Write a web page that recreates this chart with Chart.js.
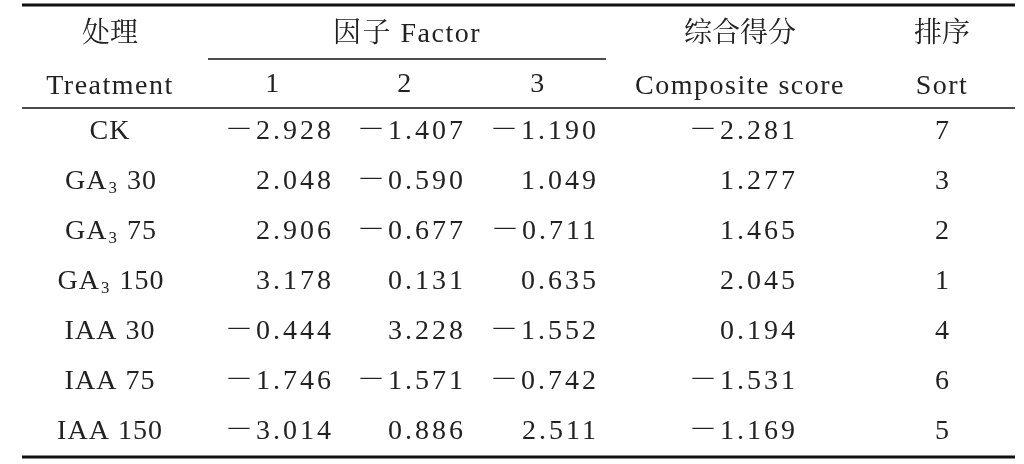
<!DOCTYPE html><html><head><meta charset="utf-8">
<script src="https://cdn.jsdelivr.net/npm/chart.js@4"></script>
<style>html,body{margin:0;padding:0;background:#fff}#c{display:block}</style></head>
<body><div style="width:1024px;height:464px"><canvas id="c"></canvas></div>
<script>
const treatments=["CK","GA_3 30","GA_3 75","GA_3 150","IAA 30","IAA 75","IAA 150"];
const factor1=["－2.928","2.048","2.906","3.178","－0.444","－1.746","－3.014"];
const factor2=["－1.407","－0.590","－0.677","0.131","3.228","－1.571","0.886"];
const factor3=["－1.190","1.049","－0.711","0.635","－1.552","－0.742","2.511"];
const composite=["－2.281","1.277","1.465","2.045","0.194","－1.531","－1.169"];
const sortRank=["7","3","2","1","4","6","5"];
const rowY=[132,182,232,282,332,382,432];
const FONT='"Liberation Serif","Noto Serif CJK SC","Noto Sans CJK SC",serif';
function drawLabel(ctx,x,y,s,sz){
  const parts=s.split("_");
  if(parts.length===1){ctx.textAlign="center";ctx.fillText(s,x,y);return;}
  const a=parts[0],sub=parts[1][0],rest=parts[1].slice(1);
  ctx.font=sz+"px "+FONT;const wa=ctx.measureText(a).width,wr=ctx.measureText(rest).width;
  ctx.font=(sz*0.6)+"px "+FONT;const ws=ctx.measureText(sub).width;
  let x0=x-(wa+ws+wr)/2;ctx.textAlign="left";
  ctx.font=sz+"px "+FONT;ctx.fillText(a,x0,y);
  ctx.font=(sz*0.6)+"px "+FONT;ctx.fillText(sub,x0+wa+1,y+7);
  ctx.font=sz+"px "+FONT;ctx.fillText(rest,x0+wa+ws+2,y);
}
const tablePlugin={id:"table",afterDraw(chart){
  const ctx=chart.ctx,X=v=>chart.scales.x.getPixelForValue(v),Y=v=>chart.scales.y.getPixelForValue(v);
  ctx.save();ctx.fillStyle="#222";ctx.strokeStyle="#111";ctx.textBaseline="middle";
  const line=(x1,x2,y,w)=>{ctx.lineWidth=w;ctx.beginPath();ctx.moveTo(X(x1),Y(y));ctx.lineTo(X(x2),Y(y));ctx.stroke();};
  line(22,1015,5,3);line(208,606,59,1.5);line(22,1015,108,1.5);line(22,1015,457,3);
  ctx.font="28px "+FONT;ctx.textAlign="center";
  ctx.fillText("处理",X(110),Y(35));ctx.fillText("排序",X(942),Y(35));ctx.fillText("综合得分",X(740),Y(35));
  ctx.letterSpacing="1.5px";
  ctx.fillText("因子 Factor",X(407),Y(35));
  ctx.fillText("Treatment",X(110),Y(87));ctx.fillText("1",X(273),Y(85));ctx.fillText("2",X(405),Y(85));
  ctx.fillText("3",X(538),Y(85));ctx.fillText("Composite score",X(740),Y(87));ctx.fillText("Sort",X(942),Y(87));
  const sz=28;
  rowY.forEach((ry,i)=>{
    ctx.letterSpacing="1px";ctx.font=sz+"px "+FONT;drawLabel(ctx,X(110),Y(ry),treatments[i],sz);
    ctx.font=sz+"px "+FONT;ctx.letterSpacing="3px";ctx.textAlign="right";
    ctx.fillText(factor1[i],X(334),Y(ry));ctx.fillText(factor2[i],X(466),Y(ry));
    ctx.fillText(factor3[i],X(599),Y(ry));ctx.fillText(composite[i],X(798),Y(ry));
    ctx.letterSpacing="0px";ctx.textAlign="center";ctx.fillText(sortRank[i],X(942),Y(ry));
  });
  ctx.restore();
}};
new Chart(document.getElementById("c"),{type:"scatter",data:{datasets:[{data:[]}]},
 options:{responsive:true,maintainAspectRatio:false,animation:false,layout:{padding:0},
  plugins:{legend:{display:false},tooltip:{enabled:false}},
  scales:{x:{type:"linear",min:0,max:1024,display:false},y:{type:"linear",min:0,max:464,reverse:true,display:false}}},
 plugins:[tablePlugin]});
</script></body></html>
